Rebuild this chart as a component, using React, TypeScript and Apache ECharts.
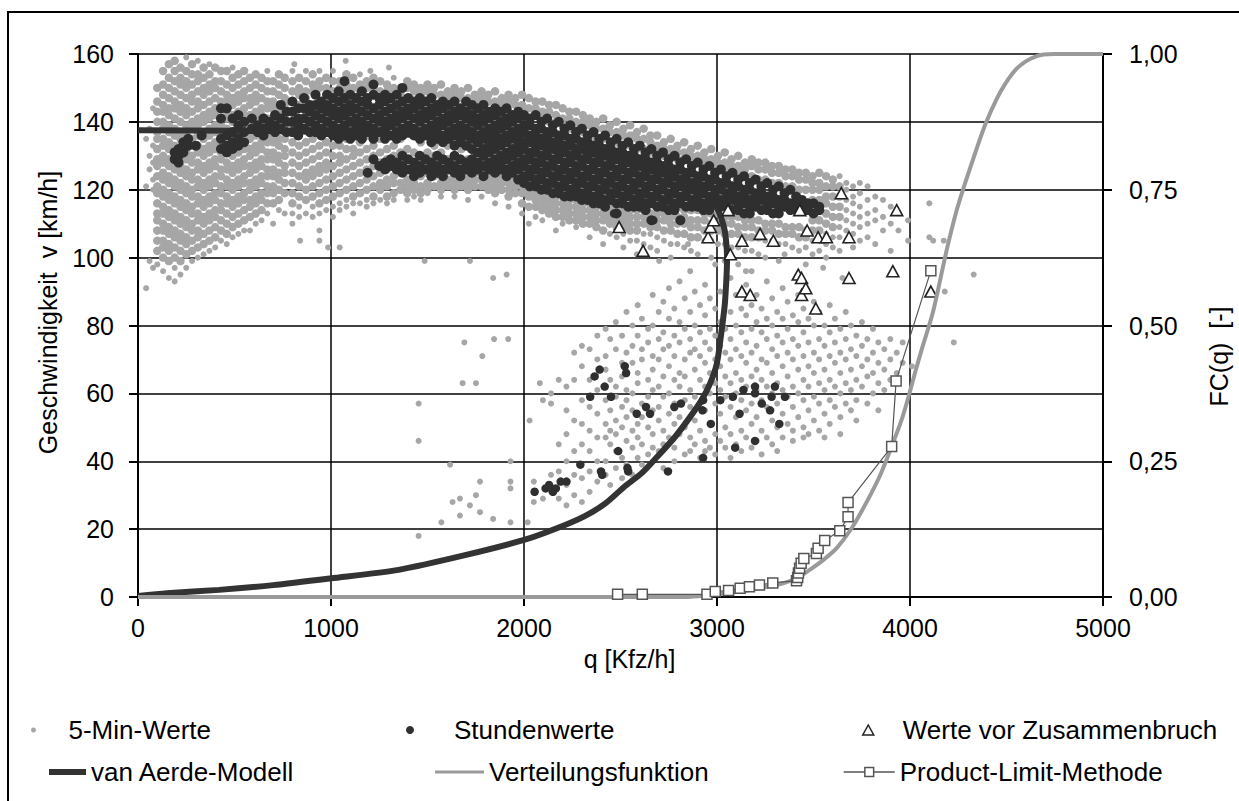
import React, { useEffect, useRef } from "react";
import * as echarts from "echarts";

const FONT = '"Liberation Sans", Arial, Helvetica, sans-serif';

const X_TICKS = [0, 1000, 2000, 3000, 4000, 5000];
const V_TICKS = [0, 20, 40, 60, 80, 100, 120, 140, 160];
const FC_TICKS = [0, 0.25, 0.5, 0.75, 1];
const FC_TICK_LABELS = ["0,00", "0,25", "0,50", "0,75", "1,00"];

const X_TITLE = "q [Kfz/h]";
const V_TITLE = "Geschwindigkeit  v [km/h]";
const FC_TITLE = "FC(q)  [-]";

const S_FIVE = "5-Min-Werte";
const S_HOUR = "Stundenwerte";
const S_BREAK = "Werte vor Zusammenbruch";
const S_AERDE = "van Aerde-Modell";
const S_DIST = "Verteilungsfunktion";
const S_PLM = "Product-Limit-Methode";

// 5-minute values, dense free-flow cloud: [q, v1, v2, ...]
const FIVE_MIN_FREE: number[][] = [
  [100, 150, 146, 143, 140, 137, 135, 132, 129, 127, 124, 121, 119, 116, 113, 111, 108, 105, 102],
  [130, 155, 151, 148, 145, 143, 140, 138, 135, 133, 130, 128, 125, 123, 120, 118, 115, 113, 110, 108, 105, 103, 100],
  [160, 157, 153, 150, 147, 144, 142, 139, 137, 134, 132, 129, 127, 124, 122, 119, 117, 114, 112, 109, 107, 104, 102, 99],
  [190, 158, 155, 152, 149, 146, 144, 141, 138, 136, 133, 131, 128, 126, 123, 121, 118, 116, 113, 111, 108, 106, 103, 100],
  [220, 156, 153, 151, 148, 145, 143, 140, 137, 135, 132, 130, 127, 125, 122, 120, 117, 115, 112, 110, 107, 105, 102, 99],
  [250, 155, 152, 150, 147, 144, 142, 139, 136, 134, 131, 129, 126, 124, 121, 119, 116, 114, 111, 109, 106, 104, 101],
  [280, 157, 154, 151, 148, 146, 143, 140, 138, 135, 133, 130, 128, 125, 123, 120, 118, 115, 113, 110, 108, 105, 102],
  [310, 154, 152, 149, 146, 144, 141, 139, 136, 133, 131, 128, 126, 123, 121, 118, 116, 113, 111, 108, 106, 103],
  [340, 156, 153, 150, 148, 145, 142, 140, 137, 135, 132, 130, 127, 125, 122, 120, 117, 115, 112, 110, 107, 104],
  [370, 154, 151, 149, 146, 143, 141, 138, 136, 133, 131, 128, 126, 123, 121, 118, 116, 113, 111, 108, 105],
  [400, 156, 152, 150, 147, 144, 142, 139, 137, 134, 132, 129, 127, 124, 122, 119, 117, 114, 112, 109, 106],
  [430, 155, 152, 149, 146, 144, 141, 139, 136, 134, 131, 129, 126, 124, 121, 119, 116, 114, 111, 108],
  [460, 155, 151, 148, 146, 143, 141, 138, 136, 133, 131, 128, 126, 123, 121, 118, 116, 113, 110, 107],
  [490, 153, 150, 147, 145, 142, 140, 137, 135, 132, 130, 127, 125, 122, 120, 117, 115, 112, 109],
  [520, 154, 151, 148, 146, 143, 141, 138, 136, 133, 131, 128, 126, 123, 121, 118, 116, 113, 110],
  [550, 155, 152, 149, 147, 144, 142, 139, 137, 134, 132, 129, 127, 124, 122, 119, 117, 114, 111],
  [580, 153, 150, 147, 145, 142, 140, 137, 135, 132, 130, 127, 125, 122, 120, 117, 115, 112],
  [610, 154, 151, 148, 146, 143, 141, 138, 136, 133, 131, 128, 126, 123, 121, 118, 116, 113],
  [640, 153, 150, 147, 144, 142, 139, 137, 134, 132, 129, 127, 124, 122, 119, 117, 114],
  [670, 152, 149, 146, 144, 141, 139, 136, 134, 131, 129, 126, 124, 121, 119, 116],
  [700, 152, 149, 146, 144, 141, 139, 136, 134, 131, 129, 126, 124, 121, 119, 116],
  [730, 154, 151, 148, 145, 143, 140, 138, 135, 133, 130, 128, 125, 123, 120, 117],
  [760, 153, 150, 147, 145, 142, 140, 137, 135, 132, 130, 127, 125, 122, 119],
  [800, 152, 149, 146, 143, 139, 134, 131, 128, 125, 122, 119, 116],
  [835, 153, 150, 148, 145, 141, 137, 133, 130, 127, 124, 121, 118],
  [870, 152, 149, 147, 143, 138, 134, 131, 128, 125, 123, 120, 117],
  [905, 154, 151, 149, 144, 140, 135, 132, 129, 126, 124, 121, 118],
  [940, 152, 150, 146, 142, 137, 133, 130, 127, 125, 122, 119, 116],
  [975, 153, 150, 148, 145, 139, 134, 131, 128, 126, 123, 120, 117],
  [1010, 152, 149, 147, 143, 136, 133, 130, 127, 124, 121, 118],
  [1045, 152, 150, 147, 144, 138, 133, 130, 128, 125, 122, 119],
  [1080, 154, 151, 149, 146, 141, 135, 132, 129, 126, 123, 120],
  [1115, 153, 150, 147, 143, 137, 132, 130, 127, 124, 121, 118],
  [1150, 151, 149, 145, 140, 134, 131, 128, 125, 122, 119],
  [1185, 152, 150, 147, 142, 136, 132, 129, 126, 123, 120],
  [1220, 153, 150, 148, 144, 139, 133, 130, 127, 124, 121, 118],
  [1255, 152, 149, 146, 141, 135, 131, 128, 125, 122, 120],
  [1290, 151, 149, 147, 143, 137, 132, 129, 126, 123, 121, 118],
  [1325, 150, 148, 144, 139, 133, 130, 127, 124, 122, 119],
  [1360, 150, 148, 145, 141, 135, 131, 128, 125, 122, 120],
  [1395, 152, 150, 147, 143, 137, 132, 129, 126, 123, 121, 119],
  [1430, 151, 149, 146, 142, 136, 131, 128, 125, 122, 120],
  [1465, 150, 148, 145, 140, 134, 130, 127, 124, 121, 119],
  [1500, 151, 149, 146, 142, 136, 131, 128, 125, 122, 120],
  [1535, 150, 148, 145, 139, 133, 130, 127, 124, 121],
  [1570, 151, 148, 146, 141, 135, 131, 128, 125, 122, 120],
  [1605, 149, 147, 144, 139, 133, 129, 126, 123, 121],
  [1640, 150, 148, 145, 140, 134, 130, 127, 124, 122, 120],
  [1675, 149, 147, 144, 138, 132, 128, 125, 123, 121],
  [1710, 150, 147, 145, 140, 134, 129, 126, 124, 122, 120],
  [1745, 148, 146, 143, 138, 131, 127, 125, 123, 121],
  [1780, 149, 147, 144, 139, 133, 128, 125, 123, 121],
  [1815, 148, 146, 143, 137, 131, 127, 124, 122, 120],
  [1850, 149, 146, 144, 139, 132, 128, 125, 123, 121, 119],
  [1885, 147, 145, 142, 137, 130, 126, 124, 122, 120],
  [1920, 148, 146, 143, 138, 131, 127, 124, 122, 120, 118],
  [1955, 147, 145, 142, 136, 129, 126, 123, 121, 119],
  [1990, 148, 145, 143, 137, 130, 125, 123, 121, 119, 116],
  [2025, 147, 144, 141, 135, 128, 124, 122, 120, 118, 115],
  [2060, 146, 144, 142, 136, 129, 124, 121, 119, 117, 115],
  [2095, 146, 143, 141, 134, 127, 122, 120, 118, 116, 114],
  [2130, 145, 143, 140, 135, 127, 121, 119, 117, 115, 113],
  [2165, 145, 142, 140, 133, 126, 121, 118, 116, 114, 112],
  [2200, 144, 141, 139, 134, 125, 120, 118, 116, 114, 112],
  [2235, 143, 141, 138, 132, 124, 119, 117, 115, 113, 111],
  [2270, 143, 140, 138, 133, 124, 119, 117, 115, 113, 111],
  [2305, 142, 140, 137, 131, 123, 118, 116, 114, 112, 110],
  [2340, 141, 139, 136, 130, 122, 118, 116, 114, 112, 110],
  [2375, 140, 138, 135, 129, 121, 117, 115, 113, 111, 109],
  [2410, 141, 138, 135, 130, 121, 117, 115, 113, 111, 108],
  [2445, 139, 137, 134, 128, 120, 116, 114, 112, 110],
  [2480, 140, 137, 134, 129, 119, 115, 113, 111, 109],
  [2515, 138, 136, 133, 127, 119, 115, 113, 111, 109],
  [2550, 139, 136, 133, 128, 118, 114, 112, 110, 108],
  [2585, 137, 135, 132, 126, 118, 114, 112, 110, 108],
  [2620, 138, 135, 132, 127, 117, 114, 112, 110],
  [2655, 136, 134, 131, 125, 117, 113, 111, 109],
  [2690, 136, 133, 131, 126, 116, 113, 111, 109],
  [2725, 134, 132, 130, 124, 116, 113, 111, 108],
  [2760, 135, 132, 130, 125, 115, 112, 110, 108],
  [2795, 133, 131, 129, 123, 115, 112, 110, 107],
  [2830, 134, 131, 129, 124, 114, 112, 110, 107],
  [2865, 132, 130, 128, 122, 114, 111, 109, 106],
  [2900, 133, 130, 128, 123, 114, 111, 109, 106],
  [2935, 131, 129, 127, 121, 113, 111, 108],
  [2970, 132, 129, 127, 122, 113, 110, 108],
  [3005, 130, 128, 126, 120, 113, 110, 108],
  [3040, 131, 128, 126, 121, 112, 110, 107],
  [3075, 129, 127, 125, 119, 112, 110, 107],
  [3110, 130, 127, 125, 120, 112, 109, 107],
  [3145, 128, 126, 124, 118, 111, 109, 106],
  [3180, 129, 127, 124, 119, 111, 109, 106],
  [3215, 128, 126, 123, 117, 111, 108, 106],
  [3250, 128, 126, 123, 118, 110, 108],
  [3285, 127, 125, 122, 116, 110, 108],
  [3320, 127, 125, 122, 117, 110, 107],
  [3355, 126, 124, 121, 115, 109, 107],
  [3390, 126, 124, 121, 116, 109, 107],
  [3425, 125, 123, 120, 114, 109, 106],
  [3460, 125, 123, 120, 115, 108, 106],
  [3495, 124, 122, 120, 117, 114, 111, 108],
  [3530, 125, 122, 120, 117, 114, 111, 108],
  [3565, 124, 121, 118, 116, 113, 110],
  [3600, 123, 121, 118, 115, 112, 109],
  [3635, 121, 118, 115, 112],
];

// 5-minute values, scattered points: [q, v1, v2, ...]
const FIVE_MIN_SPARSE: number[][] = [
  [42, 135, 121, 91], [60, 138, 130, 126, 99], [78, 144, 133, 128, 123, 120, 97],
  [100, 98], [130, 96], [160, 94], [190, 97, 93], [220, 95], [250, 159, 97], [280, 99],
  [310, 158, 100], [340, 101], [370, 157, 102], [400, 103], [430, 105], [460, 104],
  [490, 156, 106], [520, 107], [550, 108], [580, 108], [610, 110], [640, 111], [670, 155, 113],
  [700, 110], [730, 114], [760, 113], [800, 155, 113, 110], [835, 115, 112], [870, 155, 113],
  [905, 115, 112], [940, 155, 113, 108, 105], [975, 114], [1010, 155, 115, 112], [1045, 116, 114, 103],
  [1080, 117, 115], [1115, 116, 113], [1150, 154, 116], [1185, 117, 115], [1220, 116],
  [1255, 117], [1290, 116], [1325, 153, 117], [1395, 117], [1430, 118], [1465, 117], [1500, 119],
  [1570, 118], [1640, 118], [1710, 117], [1780, 118], [1850, 116], [1920, 115], [1990, 113],
  [2025, 110], [2060, 112], [2095, 111], [2165, 108], [2200, 110], [2270, 109], [2340, 106],
  [2410, 104], [2445, 107], [2480, 106], [2515, 107, 103], [2550, 105], [2585, 105, 101],
  [2620, 107, 104], [2655, 107, 103], [2690, 106, 102], [2725, 105], [2760, 104, 100],
  [2795, 104], [2830, 103], [2865, 102], [2900, 101], [2935, 105], [2970, 105, 100],
  [3005, 104], [3040, 104, 99], [3075, 103], [3110, 103, 98], [3145, 102], [3180, 102],
  [3215, 101], [3250, 105, 100], [3285, 105], [3320, 104, 99], [3355, 104], [3390, 103],
  [3425, 102], [3460, 103, 98], [3495, 105, 101], [3530, 105, 102], [3565, 107, 104, 100],
  [3600, 106, 103], [3635, 124, 109, 106, 102], [3670, 122, 120, 117, 114, 111, 108, 105],
  [3705, 121, 118, 116, 113, 110, 107, 103], [3740, 122, 119, 115, 112, 109, 105],
  [3780, 121, 117, 113, 110, 106], [3820, 118, 114, 111, 104], [3860, 117, 112, 108],
  [3900, 115, 110, 102], [3940, 113, 108], [3990, 111, 105],
  [810, 157], [1076, 158], [1204, 155], [1300, 156], [840, 105], [985, 103],
];

// 5-minute values, congested: [q, v1, v2, ...]
const FIVE_MIN_CONG: number[][] = [
  [1454, 57, 46, 18], [1485, 99], [1572, 22], [1617, 39], [1630, 28], [1668, 29, 24],
  [1682, 63], [1691, 75], [1720, 99, 27], [1751, 63, 30], [1772, 34, 25], [1784, 71],
  [1840, 94, 23], [1845, 76], [1910, 95], [1918, 76], [1930, 40, 34, 32, 22],
  [2019, 22], [2029, 52], [2051, 34, 28], [2082, 63], [2098, 58, 29],
  [2140, 60, 57, 36, 31], [2180, 64, 45, 37, 29], [2220, 62, 55, 48, 40, 33, 27],
  [2260, 72, 64, 52, 43, 36, 30], [2300, 74, 68, 58, 51, 45, 35, 28],
  [2340, 73, 64, 56, 49, 43, 37, 31], [2380, 77, 70, 61, 54, 47, 40, 34],
  [2423, 79, 71, 67, 58, 51, 47, 40, 36], [2447, 76, 64, 55, 49, 45, 33],
  [2476, 81, 73, 62, 59, 52, 48, 43, 38], [2508, 77, 69, 65, 56, 50, 41, 35],
  [2531, 84, 72, 61, 58, 53, 46, 39], [2562, 80, 74, 69, 60, 55, 49, 44, 36],
  [2589, 86, 77, 66, 63, 51, 47, 41], [2611, 82, 73, 70, 57, 53, 45, 39],
  [2643, 79, 75, 64, 59, 50, 42], [2667, 89, 80, 71, 67, 61, 55, 48, 44],
  [2698, 84, 76, 70, 62, 56, 52, 43], [2722, 87, 78, 73, 65, 59, 49, 45, 38],
  [2751, 91, 82, 74, 68, 60, 54, 47], [2779, 85, 77, 71, 64, 57, 51, 44, 40],
  [2806, 93, 81, 75, 66, 62, 53, 48], [2833, 88, 79, 70, 65, 58, 50, 42],
  [2861, 96, 84, 76, 72, 61, 56, 47, 43], [2885, 90, 80, 73, 67, 59, 52, 45],
  [2912, 86, 78, 71, 64, 57, 49, 41], [2938, 92, 83, 75, 69, 62, 55, 46, 43],
  [2963, 88, 79, 73, 66, 60, 51, 44], [2991, 98, 85, 77, 70, 63, 57, 48, 42],
  [3017, 90, 81, 74, 68, 61, 54, 46], [3043, 87, 79, 72, 65, 59, 50, 44],
  [3070, 94, 84, 76, 70, 63, 56, 48, 41], [3098, 89, 80, 73, 66, 60, 53, 45],
  [3126, 85, 78, 71, 64, 58, 49, 43], [3151, 92, 83, 75, 69, 62, 55, 47],
  [3179, 96, 86, 79, 72, 65, 57, 51, 44], [3205, 89, 81, 74, 67, 61, 53, 46],
  [3231, 85, 78, 70, 64, 58, 49, 42], [3258, 93, 82, 76, 69, 62, 56, 47],
  [3286, 88, 80, 73, 66, 60, 52, 45], [3312, 84, 77, 71, 63, 57, 50, 43],
  [3340, 91, 82, 75, 68, 61, 54, 47], [3366, 87, 79, 72, 65, 59, 51],
  [3393, 83, 76, 70, 62, 56, 49, 46], [3421, 89, 81, 74, 67, 60, 53],
  [3448, 85, 78, 71, 64, 58, 50, 47], [3474, 82, 75, 68, 62, 55, 48],
  [3502, 87, 80, 72, 66, 59, 52], [3529, 84, 76, 70, 63, 57, 49],
  [3557, 80, 74, 67, 61, 54, 47], [3584, 86, 78, 71, 64, 58, 51],
  [3611, 82, 75, 69, 62, 56], [3639, 79, 72, 66, 60, 53, 48],
  [3667, 84, 76, 70, 63, 57], [3694, 80, 73, 67, 61, 55],
  [3722, 77, 71, 64, 58, 52], [3751, 81, 74, 68, 62], [3779, 76, 70, 65, 57],
  [3808, 79, 72, 66, 60], [3836, 75, 69, 63, 55], [3867, 73, 67, 61],
  [3898, 76, 70, 64], [3931, 72, 66], [3962, 75, 69], [4010, 68],
  [4100, 116, 106], [4120, 105], [4175, 105], [4180, 90], [4227, 75], [4330, 95],
  [2620, 102], [2700, 99], [2850, 104], [3150, 96], [3350, 101], [3550, 97], [3650, 94],
];

// hourly values, free-flow band: [q, v1, v2, ...]
const HOURLY_FREE: number[][] = [
  [190, 131, 129], [210, 132, 130, 128], [235, 134, 131], [260, 135, 133], [300, 133], [330, 136],
  [430, 144, 141, 135, 132], [460, 144, 136, 133, 131], [490, 141, 137, 134, 132],
  [520, 142, 139, 135, 133], [550, 140, 137, 134], [590, 141, 138], [620, 139, 137],
  [650, 141, 138, 136], [680, 140, 138], [710, 142, 139, 137], [740, 145, 141, 138],
  [770, 143, 140, 137], [800, 146, 143, 140, 137], [830, 144, 141, 139, 136],
  [860, 147, 144, 141, 138], [890, 145, 143, 140, 137], [920, 148, 145, 142, 139, 137],
  [950, 146, 144, 141, 138, 136], [980, 148, 145, 143, 140, 137], [1010, 147, 144, 142, 139, 136],
  [1040, 149, 146, 143, 141, 138, 135], [1070, 152, 147, 144, 142, 139, 136],
  [1100, 148, 145, 143, 140, 137, 135], [1130, 147, 144, 141, 139, 136],
  [1160, 149, 146, 143, 140, 138, 135], [1190, 147, 145, 142, 139, 137, 125],
  [1220, 151, 148, 144, 141, 138, 135, 129], [1250, 147, 145, 142, 140, 137, 127],
  [1280, 148, 146, 143, 140, 138, 135, 128, 126], [1310, 147, 144, 141, 139, 136, 129, 127],
  [1340, 148, 145, 142, 140, 137, 135, 128, 126], [1370, 150, 146, 143, 141, 138, 136, 130, 127, 125],
  [1400, 147, 144, 142, 139, 137, 129, 126], [1430, 146, 144, 141, 138, 136, 128, 126, 124],
  [1460, 147, 145, 142, 140, 137, 135, 130, 127, 125], [1490, 146, 143, 141, 138, 136, 129, 126],
  [1520, 147, 144, 142, 139, 137, 134, 128, 126, 124], [1550, 145, 143, 140, 138, 135, 130, 127, 125],
  [1580, 146, 144, 141, 139, 136, 134, 129, 126, 124], [1610, 145, 142, 140, 137, 135, 128, 126],
  [1640, 146, 143, 141, 138, 136, 133, 130, 127, 125], [1670, 144, 142, 139, 137, 134, 129, 126, 124],
  [1700, 146, 143, 141, 138, 136, 133, 128, 126], [1730, 145, 142, 140, 137, 135, 132, 129, 127, 125],
  [1760, 144, 141, 139, 136, 134, 131, 128, 126], [1790, 145, 142, 140, 137, 135, 132, 130, 127, 124],
  [1820, 143, 141, 138, 136, 133, 131, 128, 126], [1850, 144, 142, 139, 137, 134, 132, 129, 127, 125],
  [1880, 143, 140, 138, 135, 133, 130, 128, 126], [1910, 144, 141, 139, 136, 134, 131, 129, 126, 124],
  [1940, 142, 140, 137, 135, 132, 130, 127, 125], [1970, 143, 141, 138, 136, 133, 131, 128, 126, 123],
  [2000, 142, 139, 137, 134, 132, 129, 127, 124, 122], [2030, 141, 139, 136, 134, 131, 129, 126, 124, 121],
  [2060, 142, 138, 136, 133, 131, 128, 126, 123, 121], [2090, 140, 138, 135, 133, 130, 128, 125, 123, 120],
  [2120, 141, 137, 135, 132, 130, 127, 125, 122, 120], [2150, 139, 137, 134, 132, 129, 127, 124, 122, 119],
  [2180, 140, 136, 134, 131, 129, 126, 124, 121, 119], [2210, 138, 136, 133, 131, 128, 126, 123, 121, 118],
  [2240, 139, 135, 133, 130, 128, 125, 123, 120, 118], [2270, 137, 135, 132, 130, 127, 125, 122, 120, 118],
  [2300, 138, 134, 132, 129, 127, 124, 122, 119, 117], [2330, 136, 134, 131, 129, 126, 124, 121, 119, 117],
  [2360, 137, 133, 131, 128, 126, 123, 121, 118, 116], [2390, 135, 133, 130, 128, 125, 123, 120, 118, 116],
  [2420, 136, 132, 130, 127, 125, 122, 120, 117, 115], [2450, 134, 132, 129, 127, 124, 122, 119, 117],
  [2480, 135, 131, 129, 126, 124, 121, 119, 116, 113], [2510, 133, 131, 128, 126, 123, 121, 118, 116],
  [2540, 134, 130, 128, 125, 123, 120, 118, 115], [2570, 132, 130, 127, 125, 122, 120, 117, 115],
  [2600, 133, 129, 127, 124, 122, 119, 117, 115], [2630, 131, 129, 126, 124, 121, 119, 116, 114],
  [2660, 132, 128, 126, 123, 121, 118, 116, 111], [2690, 130, 128, 125, 123, 120, 118, 115],
  [2720, 131, 127, 125, 122, 120, 117, 115], [2750, 129, 127, 124, 122, 119, 117, 114],
  [2780, 130, 126, 124, 121, 119, 116, 114], [2810, 128, 126, 123, 121, 118, 116, 111],
  [2840, 129, 125, 123, 120, 118, 115], [2870, 127, 125, 122, 120, 117, 115],
  [2900, 128, 124, 122, 119, 117, 115], [2930, 126, 124, 121, 119, 116, 114],
  [2960, 127, 123, 121, 118, 116, 114], [2990, 125, 123, 120, 118, 116],
  [3020, 126, 122, 120, 117, 115], [3050, 124, 122, 119, 117, 115], [3080, 125, 121, 119, 117, 114],
  [3110, 123, 121, 118, 116, 114], [3140, 124, 120, 118, 116, 113], [3170, 122, 120, 117, 115, 113],
  [3200, 123, 119, 117, 115], [3230, 121, 119, 117, 114], [3260, 122, 118, 116, 114],
  [3290, 120, 118, 116, 113], [3320, 121, 117, 115, 113], [3350, 119, 117, 115],
  [3380, 120, 116, 114], [3410, 118, 116, 114], [3440, 117, 115], [3470, 116, 114],
  [3500, 116, 113], [3530, 115, 114],
];

// hourly values, congested: [q, v]
const HOURLY_CONG: number[][] = [
  [2055, 31], [2112, 32], [2130, 33], [2150, 31], [2165, 32], [2190, 34], [2220, 34], [2292, 39],
  [2343, 59], [2366, 65], [2392, 67], [2399, 37], [2405, 36], [2418, 62], [2451, 59], [2488, 43],
  [2522, 68], [2529, 66], [2536, 38], [2540, 37], [2584, 54], [2632, 56], [2653, 54], [2746, 37],
  [2779, 56], [2813, 57], [2925, 55], [2928, 58], [2928, 41], [2968, 51], [3017, 58], [3082, 59],
  [3094, 44], [3117, 54], [3137, 61], [3197, 62], [3197, 60], [3197, 46], [3232, 57], [3275, 55],
  [3283, 59], [3300, 62], [3323, 51], [3352, 59], [2467, 113], [2670, 111], [2813, 111],
];

// values before breakdown: [q, v]
const BEFORE_BREAKDOWN: number[][] = [
  [2493, 109], [2617, 102], [2954, 106], [2966, 109], [2983, 111], [3057, 114], [3069, 101],
  [3129, 105], [3129, 90], [3172, 89], [3223, 107], [3292, 105], [3421, 95], [3429, 114],
  [3438, 94], [3438, 89], [3460, 91], [3467, 108], [3512, 85], [3524, 106], [3567, 106],
  [3644, 119], [3684, 106], [3684, 94], [3911, 96], [3931, 114], [4108, 90],
];

// van Aerde model: [q, v]
const VAN_AERDE: number[][] = [
  [0, 0.3], [150, 1.1], [420, 2.1], [700, 3.5], [1000, 5.5], [1350, 8], [1700, 12.4],
  [2000, 16.8], [2150, 19.8], [2310, 23.7], [2420, 27.5], [2520, 32.5], [2610, 36.5],
  [2690, 41.3], [2780, 47], [2860, 53], [2920, 58], [2965, 63], [3000, 69], [3025, 79],
  [3040, 86], [3048, 93], [3052, 99], [3050, 103], [3040, 108], [3020, 112], [3000, 114.5],
  [2950, 118], [2850, 122], [2700, 126.5], [2500, 130], [2200, 133], [2000, 134.5],
  [1500, 136], [1000, 137], [500, 137.4], [0, 137.5],
];

// distribution function FC(q): [q, F]
const DISTRIBUTION: number[][] = [
  [0, 0], [2850, 0], [2950, 0.003], [3050, 0.007], [3150, 0.012], [3250, 0.018], [3350, 0.026],
  [3420, 0.036], [3480, 0.05], [3550, 0.068], [3620, 0.09], [3700, 0.128], [3780, 0.178],
  [3850, 0.228], [3911, 0.283], [3960, 0.33], [3997, 0.375], [4030, 0.418], [4065, 0.461],
  [4117, 0.522], [4160, 0.59], [4194, 0.645], [4240, 0.71], [4280, 0.756], [4340, 0.82],
  [4392, 0.872], [4450, 0.918], [4495, 0.946], [4550, 0.972], [4598, 0.986], [4650, 0.995],
  [4692, 0.999], [4750, 1], [5000, 1],
];

// product-limit method: [q, F]
const PRODUCT_LIMIT: number[][] = [
  [2485, 0.005], [2613, 0.005], [2948, 0.005], [2991, 0.01], [3060, 0.012], [3120, 0.016],
  [3168, 0.019], [3220, 0.022], [3289, 0.026], [3412, 0.03], [3418, 0.036], [3422, 0.044],
  [3428, 0.053], [3436, 0.062], [3450, 0.071], [3515, 0.08], [3524, 0.09], [3558, 0.104],
  [3636, 0.122], [3679, 0.148], [3679, 0.174], [3905, 0.277], [3928, 0.398], [4108, 0.601],
];

const expandCols = (cols: number[][]) =>
  cols.flatMap(([q, ...vs]) => vs.map((v) => [q, v]));

const axisLineStyle = { color: "#000", width: 2 };
const gridLineStyle = { color: "#000", width: 1.5 };
const labelStyle = { fontSize: 25, color: "#000", fontFamily: FONT };
const GRAY = "#a6a6a6";
const DARK = "#2f2f2f";

const legendCommon = {
  orient: "horizontal" as const,
  padding: 0,
  selectedMode: false,
  symbolKeepAspect: true,
  textStyle: { fontSize: 26, color: "#000", fontFamily: FONT },
};

function buildOption() {
  return {
    animation: false,
    backgroundColor: "#fff",
    textStyle: { fontFamily: FONT },
    grid: { left: 138, right: 131, top: 54, bottom: 204, containLabel: false },
    xAxis: {
      type: "value",
      min: X_TICKS[0],
      max: X_TICKS[X_TICKS.length - 1],
      interval: X_TICKS[1] - X_TICKS[0],
      name: X_TITLE,
      nameLocation: "middle",
      nameGap: 49,
      nameTextStyle: { ...labelStyle, padding: [0, 0, 0, 18] },
      axisLine: { show: true, onZero: false, lineStyle: axisLineStyle },
      axisTick: { show: true, inside: false, length: 9, lineStyle: axisLineStyle },
      axisLabel: { ...labelStyle, margin: 18, formatter: (v: number) => String(v) },
      splitLine: { show: true, lineStyle: gridLineStyle },
    },
    yAxis: [
      {
        type: "value",
        position: "left",
        min: V_TICKS[0],
        max: V_TICKS[V_TICKS.length - 1],
        interval: V_TICKS[1] - V_TICKS[0],
        name: V_TITLE,
        nameLocation: "middle",
        nameRotate: 90,
        nameGap: 78,
        nameTextStyle: { ...labelStyle, padding: [0, 0, 0, 26] },
        axisLine: { show: true, onZero: false, lineStyle: axisLineStyle },
        axisTick: { show: true, inside: false, length: 9, lineStyle: axisLineStyle },
        axisLabel: { ...labelStyle, margin: 24, formatter: (v: number) => String(v) },
        splitLine: { show: true, lineStyle: gridLineStyle },
      },
      {
        type: "value",
        position: "right",
        min: FC_TICKS[0],
        max: FC_TICKS[FC_TICKS.length - 1],
        interval: FC_TICKS[1] - FC_TICKS[0],
        name: FC_TITLE,
        nameLocation: "middle",
        nameRotate: 90,
        nameGap: 103,
        nameTextStyle: { ...labelStyle, padding: [0, 62, 0, 0] },
        axisLine: { show: true, onZero: false, lineStyle: axisLineStyle },
        axisTick: { show: true, inside: false, length: 9, lineStyle: axisLineStyle },
        axisLabel: {
          ...labelStyle,
          margin: 26,
          formatter: (v: number) => {
            const i = FC_TICKS.indexOf(v);
            return i >= 0 ? FC_TICK_LABELS[i] : String(v);
          },
        },
        splitLine: { show: false },
      },
    ],
    legend: [
      {
        ...legendCommon,
        data: [S_FIVE],
        left: 31,
        top: 717,
        itemWidth: 60,
        itemHeight: 5,
        itemStyle: { color: GRAY, borderWidth: 0, opacity: 1 },
      },
      {
        ...legendCommon,
        data: [S_HOUR],
        left: 406,
        top: 717,
        itemWidth: 78,
        itemHeight: 8,
        itemStyle: { color: DARK, borderWidth: 0, opacity: 1 },
      },
      {
        ...legendCommon,
        data: [S_BREAK],
        left: 862,
        top: 717,
        itemWidth: 11,
        itemHeight: 10,
        itemStyle: { color: "#fff", borderColor: "#222", borderWidth: 1.5, opacity: 1 },
        textStyle: { ...legendCommon.textStyle, padding: [0, 0, 0, 24] },
      },
      {
        ...legendCommon,
        data: [{ name: S_AERDE, icon: "rect" }],
        left: 49,
        top: 759,
        itemWidth: 37,
        itemHeight: 6,
        itemStyle: { color: "#333", borderWidth: 0 },
      },
      {
        ...legendCommon,
        data: [{ name: S_DIST, icon: "rect" }],
        left: 435,
        top: 759,
        itemWidth: 49,
        itemHeight: 3,
        itemStyle: { color: "#9a9a9a", borderWidth: 0 },
      },
      {
        ...legendCommon,
        data: [S_PLM],
        left: 843,
        top: 759,
        itemWidth: 51,
        itemHeight: 11,
        itemStyle: { color: "#fff", borderColor: "#555", borderWidth: 1.5 },
        lineStyle: { color: "#555", width: 1.5 },
      },
    ],
    graphic: [
      {
        type: "rect",
        silent: true,
        z: -10,
        shape: { x: 8, y: 12, width: 1260, height: 820 },
        style: { fill: "none", stroke: "#000", lineWidth: 2 },
      },
    ],
    series: [
      {
        name: S_FIVE,
        type: "scatter",
        yAxisIndex: 0,
        symbol: "circle",
        symbolSize: 8.5,
        itemStyle: { color: GRAY, opacity: 1 },
        data: expandCols(FIVE_MIN_FREE),
        z: 2,
      },
      {
        name: S_FIVE,
        type: "scatter",
        yAxisIndex: 0,
        symbol: "circle",
        symbolSize: 6,
        itemStyle: { color: GRAY, opacity: 1 },
        data: [...expandCols(FIVE_MIN_SPARSE), ...expandCols(FIVE_MIN_CONG)],
        z: 2,
      },
      {
        name: S_AERDE,
        type: "line",
        yAxisIndex: 0,
        symbol: "none",
        smooth: 0.25,
        itemStyle: { color: "#333" },
        lineStyle: { color: "#333", width: 6 },
        data: VAN_AERDE,
        z: 3,
      },
      {
        name: S_HOUR,
        type: "scatter",
        yAxisIndex: 0,
        symbol: "circle",
        symbolSize: 10,
        itemStyle: { color: DARK, opacity: 1 },
        data: expandCols(HOURLY_FREE),
        z: 4,
      },
      {
        name: S_HOUR,
        type: "scatter",
        yAxisIndex: 0,
        symbol: "circle",
        symbolSize: 8.5,
        itemStyle: { color: DARK, opacity: 1 },
        data: HOURLY_CONG,
        z: 4,
      },
      {
        name: S_BREAK,
        type: "scatter",
        yAxisIndex: 0,
        symbol: "triangle",
        symbolSize: [12, 11],
        itemStyle: { color: "#fff", borderColor: "#222", borderWidth: 1.6, opacity: 1 },
        data: BEFORE_BREAKDOWN,
        z: 5,
      },
      {
        name: S_DIST,
        type: "line",
        yAxisIndex: 1,
        symbol: "none",
        smooth: 0.3,
        itemStyle: { color: "#9a9a9a" },
        lineStyle: { color: "#9a9a9a", width: 4 },
        data: DISTRIBUTION,
        z: 6,
      },
      {
        name: S_PLM,
        type: "line",
        yAxisIndex: 1,
        symbol: "rect",
        symbolSize: 10,
        showSymbol: true,
        itemStyle: { color: "#fff", borderColor: "#555", borderWidth: 1.5 },
        lineStyle: { color: "#555", width: 1.2 },
        data: PRODUCT_LIMIT,
        z: 7,
      },
    ],
  };
}

export default function App() {
  const ref = useRef<HTMLDivElement>(null);
  useEffect(() => {
    if (!ref.current) return;
    const chart = echarts.init(ref.current, null, { renderer: "svg" });
    chart.setOption(buildOption() as any);
    return () => chart.dispose();
  }, []);
  return (
    <div
      ref={ref}
      style={{ position: "absolute", left: 0, top: 0, width: 1239, height: 801, background: "#fff" }}
    />
  );
}
